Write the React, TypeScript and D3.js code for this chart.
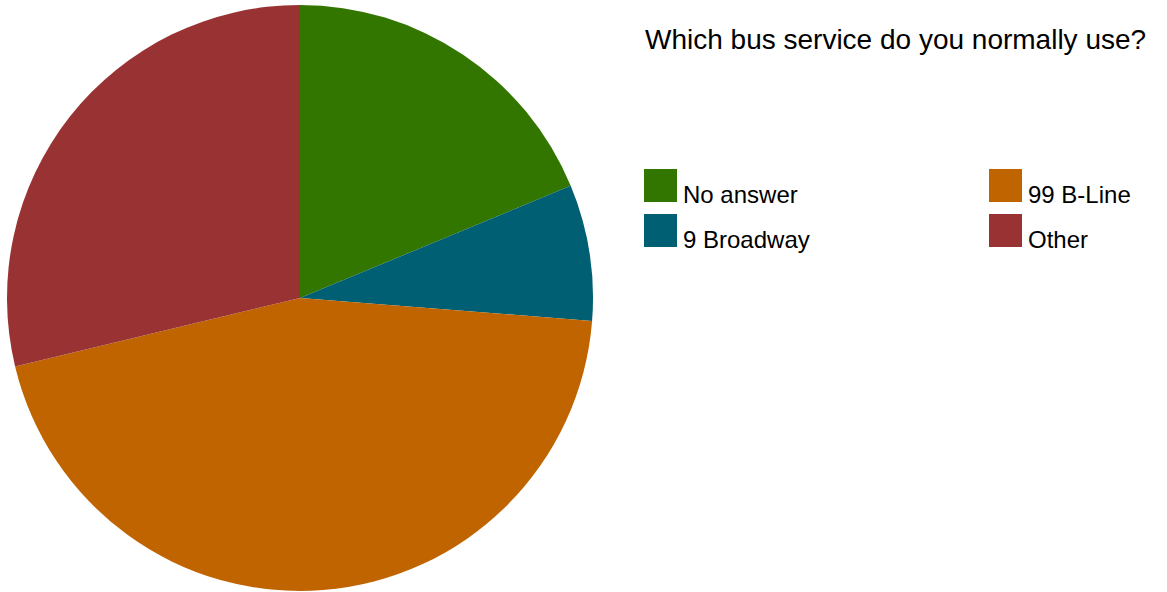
import React from "react";
import * as d3 from "d3";

const categories = ["No answer", "9 Broadway", "99 B-Line", "Other"];
const values = [15, 6, 36, 23];
const colors = ["#327600", "#005f73", "#c06400", "#993333"];
const title = "Which bus service do you normally use?";

export default function App() {
  const width = 1167;
  const height = 592;
  const cx = 300;
  const cy = 298;
  const r = 293;
  const pie = d3.pie<number>().sort(null).value((d) => d)(values);
  const arc = d3.arc<d3.PieArcDatum<number>>().innerRadius(0).outerRadius(r);
  const legendPos = [
    { x: 644, y: 169 },
    { x: 644, y: 214 },
    { x: 989, y: 169 },
    { x: 989, y: 214 },
  ];
  return (
    <svg
      width={width}
      height={height}
      style={{ position: "absolute", left: 0, top: 0, background: "#fff" }}
      fontFamily="'Liberation Sans', Arial, sans-serif"
    >
      <g transform={`translate(${cx},${cy})`}>
        {pie.map((p, i) => (
          <path key={i} d={arc(p) || ""} fill={colors[i]} />
        ))}
      </g>
      <text x={645} y={49} fontSize={28} fill="#000">
        {title}
      </text>
      {categories.map((c, i) => (
        <g key={c}>
          <rect x={legendPos[i].x} y={legendPos[i].y} width={33} height={33} fill={colors[i]} />
          <text x={legendPos[i].x + 39} y={legendPos[i].y + 33.5} fontSize={24} fill="#000">
            {c}
          </text>
        </g>
      ))}
    </svg>
  );
}
